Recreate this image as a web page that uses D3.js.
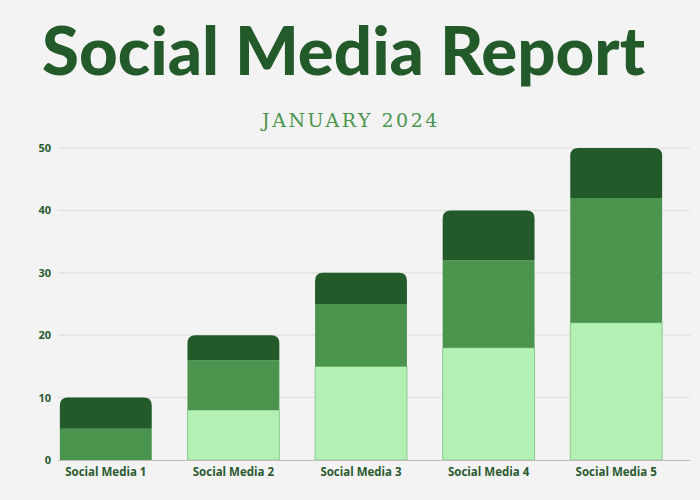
<!DOCTYPE html>
<html><head><meta charset="utf-8">
<script src="https://cdn.jsdelivr.net/npm/d3@7"></script>
<style>html,body{margin:0;padding:0;background:#f3f3f3;}svg{display:block;}</style>
</head><body>
<svg id="chart" width="700" height="500"></svg>
<script>
const categories = ["Social Media 1","Social Media 2","Social Media 3","Social Media 4","Social Media 5"];
const seriesKeys = ["light","mid","dark"];
const lightValues = [0, 8, 15, 18, 22];
const midValues = [5, 8, 10, 14, 20];
const darkValues = [5, 4, 5, 8, 8];
const yTicks = [0, 10, 20, 30, 40, 50];
const colors = {light:"#b3f0b3", mid:"#4a944d", dark:"#235a2a"};
const strokes = {light:"#8cc98e", mid:"none", dark:"none"};

const rows = categories.map((c,i)=>({cat:c, light:lightValues[i], mid:midValues[i], dark:darkValues[i]}));
const stacked = d3.stack().keys(seriesKeys)(rows);

const svg = d3.select("#chart");
svg.append("rect").attr("width",700).attr("height",500).attr("fill","#f3f3f3");

const x = d3.scaleBand().domain(categories).range([42,680]).paddingInner(0.28).paddingOuter(0.14);
const y = d3.scaleLinear().domain([0,50]).range([460,148]);

// title
svg.append("text").attr("x",343.5).attr("y",75).attr("text-anchor","middle")
  .attr("font-family","Lato").attr("font-weight",900).attr("font-size",66)
  .attr("textLength",603).attr("lengthAdjust","spacingAndGlyphs")
  .attr("fill","#235a2a").text("Social Media Report");
svg.append("text").attr("x",351).attr("y",127).attr("text-anchor","middle")
  .attr("font-family","DejaVu Serif").attr("font-size",19).attr("letter-spacing","2.5px")
  .attr("fill","#4a944d").text("JANUARY 2024");

// grid
svg.append("g").selectAll("line").data(yTicks.filter(t=>t>0)).join("line")
  .attr("x1",58).attr("x2",690).attr("y1",d=>y(d)).attr("y2",d=>y(d))
  .attr("stroke","#dcdcdc").attr("stroke-width",1);

// y axis labels
const yAxis = d3.axisLeft(y).tickValues(yTicks).tickSize(0).tickPadding(0);
const gy = svg.append("g").attr("transform","translate(51,0)").call(yAxis);
gy.select(".domain").remove();
gy.selectAll("text").attr("font-family","Open Sans").attr("font-weight",700)
  .attr("font-size",11).attr("fill","#2a5a30");

// bars
const r = 8;
function path(d, key, isTop){
  const x0 = x(d.data.cat), w = x.bandwidth();
  const y0 = y(d[0]), y1 = y(d[1]);
  const h = y0 - y1;
  if (h <= 0) return "";
  if (!isTop) return `M${x0},${y0}V${y1}H${x0+w}V${y0}Z`;
  const rr = Math.min(r, h, w/2);
  return `M${x0},${y0}V${y1+rr}Q${x0},${y1} ${x0+rr},${y1}H${x0+w-rr}Q${x0+w},${y1} ${x0+w},${y1+rr}V${y0}Z`;
}
stacked.forEach((s, si)=>{
  svg.append("g").selectAll("path").data(s).join("path")
    .attr("d", d=>path(d, s.key, si===stacked.length-1))
    .attr("fill", colors[s.key])
    .attr("stroke", strokes[s.key]).attr("stroke-width",1);
});

// x axis
svg.append("line").attr("x1",58).attr("x2",690).attr("y1",460.5).attr("y2",460.5)
  .attr("stroke","#bdbdbd").attr("stroke-width",1);
const xAxis = d3.axisBottom(x).tickSize(0).tickPadding(0);
const gx = svg.append("g").attr("transform","translate(0,468)").call(xAxis);
gx.select(".domain").remove();
gx.selectAll("text").attr("font-family","Open Sans").attr("font-weight",700)
  .attr("font-size",11.5).attr("fill","#2a5a30");
</script>
</body></html>
